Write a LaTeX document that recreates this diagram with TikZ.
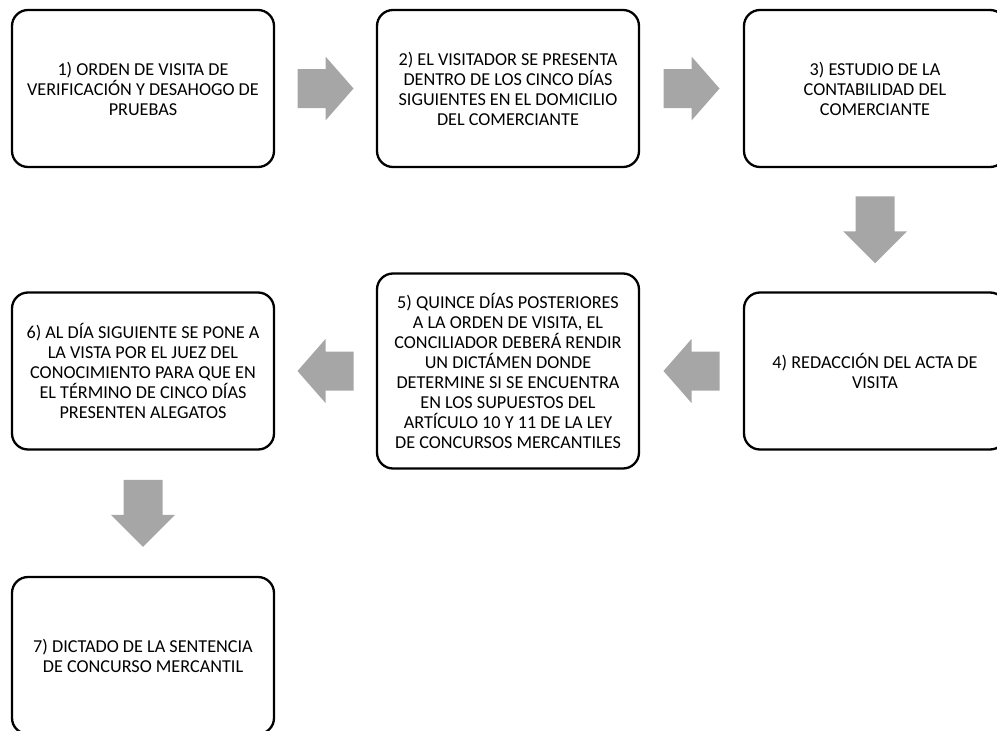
\documentclass[tikz,border=0pt]{standalone}
\usepackage{fontspec}
\setmainfont{Carlito}
\usetikzlibrary{calc}
\definecolor{arrowgray}{HTML}{A6A6A6}
\begin{document}
\begin{tikzpicture}[x=1pt,y=-1pt,
  stage/.style={draw=black, line width=2.3pt, rounded corners=16pt, fill=white,
    minimum width=262pt, minimum height=157pt, align=center, inner sep=4pt,
    font=\fontsize{18.2}{20}\selectfont},
  harrow/.pic={\fill[arrowgray] (-28,-19.5) -- (0,-19.5) -- (0,-32) -- (28,0)
      -- (0,32) -- (0,19.5) -- (-28,19.5) -- cycle;},
  varrow/.pic={\fill[arrowgray] (-19.5,-33.5) -- (19.5,-33.5) -- (19.5,1.5)
      -- (32,1.5) -- (0,33.5) -- (-32,1.5) -- (-19.5,1.5) -- cycle;}
]
\useasboundingbox (0,0) rectangle (997,731);
\clip (0,0) rectangle (997,731);

% process stages
\node[stage] (s1) at (143,88.5) {1) ORDEN DE VISITA DE\\VERIFICACIÓN Y DESAHOGO DE\\PRUEBAS};
\node[stage] (s2) at (508,88.5) {2) EL VISITADOR SE PRESENTA\\DENTRO DE LOS CINCO DÍAS\\SIGUIENTES EN EL DOMICILIO\\DEL COMERCIANTE};
\node[stage] (s3) at (875,88.5) {3) ESTUDIO DE LA\\CONTABILIDAD DEL\\COMERCIANTE};
\node[stage] (s4) at (875,371) {4) REDACCIÓN DEL ACTA DE\\VISITA};
\node[stage, minimum height=195pt] (s5) at (508,371) {5) QUINCE DÍAS POSTERIORES\\A LA ORDEN DE VISITA, EL\\CONCILIADOR DEBERÁ RENDIR\\UN DICTÁMEN DONDE\\DETERMINE SI SE ENCUENTRA\\EN LOS SUPUESTOS DEL\\ARTÍCULO 10 Y 11 DE LA LEY\\DE CONCURSOS MERCANTILES};
\node[stage] (s6) at (143,371) {6) AL DÍA SIGUIENTE SE PONE A\\LA VISTA POR EL JUEZ DEL\\CONOCIMIENTO PARA QUE EN\\EL TÉRMINO DE CINCO DÍAS\\PRESENTEN ALEGATOS};
\node[stage] (s7) at (143,655.5) {7) DICTADO DE LA SENTENCIA\\DE CONCURSO MERCANTIL};

% block arrows between stages
\path ($(s1.east)!0.5!(s2.west)$) pic{harrow};
\path ($(s2.east)!0.5!(s3.west)$) pic{harrow};
\path ($(s3.south)!0.5!(s4.north)$) pic{varrow};
\path ($(s4.west)!0.5!(s5.east)$) pic[rotate=180]{harrow};
\path ($(s5.west)!0.5!(s6.east)$) pic[rotate=180]{harrow};
\path ($(s6.south)!0.5!(s7.north)$) pic{varrow};
\end{tikzpicture}
\end{document}
